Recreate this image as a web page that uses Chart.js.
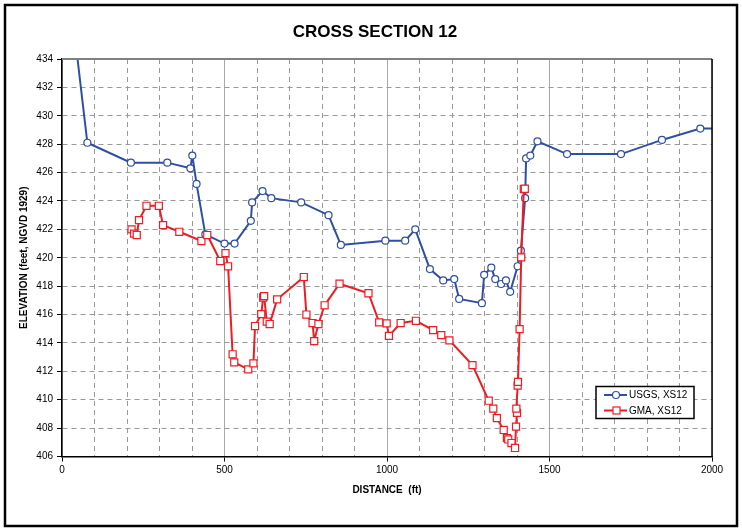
<!DOCTYPE html>
<html>
<head>
<meta charset="utf-8">
<script src="https://cdn.jsdelivr.net/npm/chart.js@4.4.0/dist/chart.umd.min.js"></script>
<style>
html, body { margin: 0; padding: 0; background: #fff; }
#chart-body { width: 742px; height: 530px; }
</style>
</head>
<body>
<div id="chart-body"><canvas id="chart-xs12" width="742" height="530"></canvas></div>
<script>
var usgsDistance = [35, 78, 212, 324, 395, 401, 414, 441, 500, 531, 581, 585, 617, 644, 736, 820, 858, 995, 1056, 1087,
    1132, 1173, 1207, 1222, 1292, 1299, 1321, 1333, 1351, 1366, 1379, 1402, 1412, 1425, 1428, 1441, 1463, 1554, 1720,
    1846, 1964, 2050];
var usgsElevation = [436.5, 428.1, 426.7, 426.7, 426.3, 427.2, 425.2, 421.65, 421.0, 421.0, 422.6, 423.9, 424.7, 424.2, 423.9,
    423.0, 420.9, 421.2, 421.2, 422.0, 419.2, 418.4, 418.5, 417.1, 416.8, 418.8, 419.3, 418.5, 418.15, 418.4, 417.6,
    419.4, 420.5, 424.2, 427.0, 427.2, 428.2, 427.3, 427.3, 428.3, 429.1, 429.1];

var gmaDistance = [214, 222, 230, 237, 260, 298, 311, 361, 429, 447, 487, 503, 511, 525, 530, 573, 589, 594, 613, 619,
    622, 630, 639, 662, 744, 752, 771, 776, 789, 808, 854, 943, 976, 999, 1006, 1042, 1089, 1142, 1167, 1192, 1263,
    1313, 1327, 1338, 1359, 1369, 1373, 1383, 1394, 1397, 1400, 1398, 1402, 1403, 1408, 1413, 1421, 1424];
var gmaElevation = [422.0, 421.7, 421.6, 422.65, 423.66, 423.66, 422.3, 421.83, 421.18, 421.6, 419.77, 420.33, 419.4,
    413.2, 412.63, 412.14, 412.56, 415.19, 416.03, 417.2, 417.3, 415.5, 415.33, 417.07, 418.64, 416.0, 415.4, 414.13,
    415.33, 416.65, 418.17, 417.5, 415.45, 415.38, 414.5, 415.4, 415.56, 414.9, 414.55, 414.18, 412.44, 409.93,
    409.37, 408.7, 407.87, 407.3, 407.2, 406.95, 406.6, 408.1, 409.07, 409.37, 411.0, 411.26, 414.97, 420.03,
    424.84, 424.86];

var seriesLabels = ["USGS, XS12", "GMA, XS12"];
var xTicks = { min: 0, max: 2000, step: 100, major: 500 };
var yTicks = { min: 406, max: 434, step: 2 };

var blue = '#2f4fa3';
var red = '#ee1c25';
var fontFamily = 'Arial, "Liberation Sans", sans-serif';

function toPoints(xs, ys) {
    var pts = [];
    for (var i = 0; i < xs.length; i++) {
        pts.push({ x: xs[i], y: ys[i] });
    }
    return pts;
}

function isMajor(ctx) {
    return ctx.tick && ctx.tick.value % xTicks.major === 0;
}

var framePlugin = {
    id: 'frame',
    beforeDraw: function (chart) {
        var c = chart.ctx;
        c.save();
        c.fillStyle = '#fff';
        c.fillRect(0, 0, chart.width, chart.height);
        c.restore();
    },
    afterDraw: function (chart) {
        var c = chart.ctx;
        var a = chart.chartArea;
        c.save();
        // plot area top and right edges
        c.strokeStyle = '#808080';
        c.lineWidth = 2;
        c.beginPath();
        c.moveTo(a.left, a.top);
        c.lineTo(a.right, a.top);
        c.stroke();
        c.strokeStyle = '#000';
        c.lineWidth = 1.5;
        c.beginPath();
        c.moveTo(a.right, a.top);
        c.lineTo(a.right, a.bottom);
        c.stroke();

        // outer frame
        c.lineWidth = 2.5;
        c.strokeRect(5, 5, chart.width - 10, chart.height - 9);

        // title
        c.fillStyle = '#000';
        c.font = 'bold 17px ' + fontFamily;
        c.textAlign = 'center';
        c.textBaseline = 'middle';
        c.fillText('CROSS SECTION 12', 375, 32);

        // legend
        var lx = a.right - 116, ly = a.bottom - 70;
        c.fillStyle = '#fff';
        c.fillRect(lx, ly, 98, 32);
        c.strokeStyle = '#000';
        c.lineWidth = 1.5;
        c.strokeRect(lx, ly, 98, 32);
        var colors = [blue, red];
        for (var i = 0; i < 2; i++) {
            var yy = ly + 8.5 + i * 15.5;
            c.strokeStyle = colors[i];
            c.lineWidth = 2;
            c.beginPath();
            c.moveTo(lx + 8, yy);
            c.lineTo(lx + 31, yy);
            c.stroke();
            c.fillStyle = '#fff';
            c.lineWidth = 1.2;
            if (i === 0) {
                c.beginPath();
                c.arc(lx + 20, yy, 3.5, 0, Math.PI * 2);
                c.fill();
                c.stroke();
            } else {
                c.fillRect(lx + 17, yy - 3.5, 7, 7);
                c.strokeRect(lx + 17, yy - 3.5, 7, 7);
            }
            c.fillStyle = '#000';
            c.font = '10px ' + fontFamily;
            c.textAlign = 'left';
            c.fillText(seriesLabels[i], lx + 33, yy + 0.5);
        }
        c.restore();
    }
};

var ctx = document.getElementById('chart-xs12');
var myChart = new Chart(ctx, {
    type: 'scatter',
    data: {
        datasets: [{
            label: seriesLabels[0],
            data: toPoints(usgsDistance, usgsElevation),
            showLine: true,
            borderColor: blue,
            borderWidth: 2,
            pointStyle: 'circle',
            pointRadius: 3.5,
            pointBorderWidth: 1.2,
            pointBackgroundColor: '#fff',
            pointBorderColor: blue,
            order: 1
        }, {
            label: seriesLabels[1],
            data: toPoints(gmaDistance, gmaElevation),
            showLine: true,
            borderColor: red,
            borderWidth: 2,
            pointStyle: 'rect',
            pointRadius: 5,
            pointBorderWidth: 1.2,
            pointBackgroundColor: '#fff',
            pointBorderColor: red,
            order: 0
        }]
    },
    options: {
        responsive: false,
        animation: false,
        layout: {
            padding: { top: 59, left: 10, right: 30, bottom: 30 }
        },
        plugins: {
            legend: { display: false },
            title: { display: false },
            tooltip: { enabled: false }
        },
        scales: {
            x: {
                type: 'linear',
                min: xTicks.min,
                max: xTicks.max,
                afterFit: function (scale) { scale.height = 43.5; },
                ticks: {
                    stepSize: xTicks.step,
                    autoSkip: false,
                    maxRotation: 0,
                    padding: 3,
                    color: '#000',
                    font: { family: fontFamily, size: 10 },
                    callback: function (v) { return v % xTicks.major === 0 ? v : ''; }
                },
                grid: {
                    color: function (c) { return isMajor(c) ? '#a8a8a8' : '#999'; },
                    lineWidth: 1,
                    tickLength: 5,
                    tickColor: function (c) { return isMajor(c) ? '#000' : 'rgba(0,0,0,0)'; }
                },
                border: {
                    color: '#000',
                    width: 1.5,
                    dash: function (c) { return isMajor(c) ? [] : [5, 4]; }
                },
                title: {
                    display: true,
                    text: 'DISTANCE  (ft)',
                    color: '#000',
                    font: { family: fontFamily, size: 10, weight: 'bold' },
                    padding: { top: 0, bottom: 4 }
                }
            },
            y: {
                min: yTicks.min,
                max: yTicks.max,
                afterFit: function (scale) { scale.width = 52; },
                ticks: {
                    stepSize: yTicks.step,
                    padding: 4,
                    color: '#000',
                    font: { family: fontFamily, size: 10 }
                },
                grid: {
                    color: '#999',
                    lineWidth: 1,
                    tickLength: 5,
                    tickColor: '#000'
                },
                border: {
                    color: '#000',
                    width: 1.5,
                    dash: [5, 4]
                },
                title: {
                    display: true,
                    text: 'ELEVATION (feet, NGVD 1929)',
                    color: '#000',
                    font: { family: fontFamily, size: 10, weight: 'bold' },
                    padding: { top: 8, bottom: 0 }
                }
            }
        }
    },
    plugins: [framePlugin]
});
</script>
</body>
</html>
